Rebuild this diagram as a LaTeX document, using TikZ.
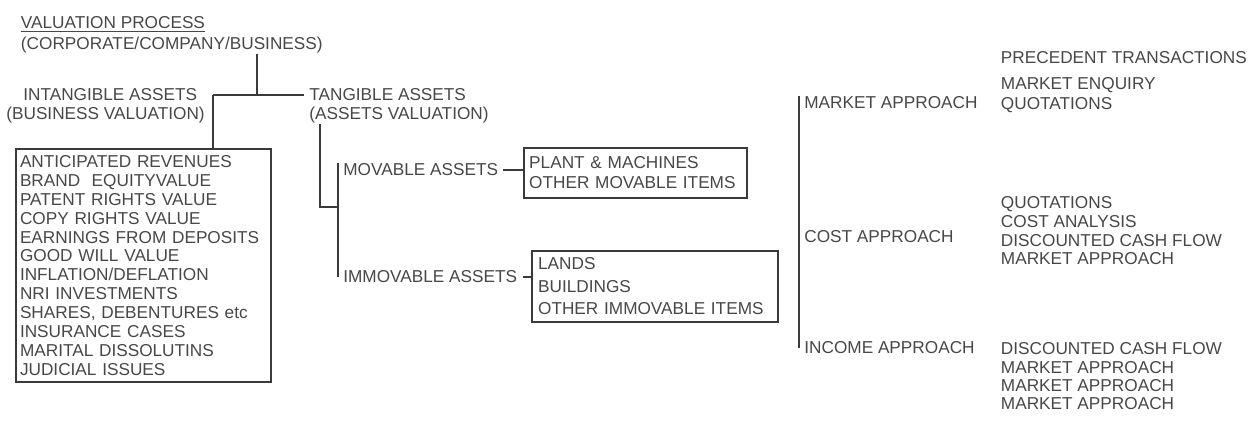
\documentclass[tikz,border=0pt]{standalone}
\usepackage{fontspec}
\setmainfont{Liberation Sans}
\usetikzlibrary{positioning}

\definecolor{ink}{HTML}{474747}
\definecolor{wire}{HTML}{3a3a3a}

\begin{document}
\begin{tikzpicture}[x=0.02cm,y=-0.02cm,line width=1.1pt,draw=wire,
	every node/.style={text=ink,inner sep=0pt},
	lbl/.style={anchor=west,inner xsep=2.5pt,font=\fontsize{9.8}{11}\selectfont},
	lst/.style={anchor=north west,align=left,font=\fontsize{9.8}{#1}\selectfont},
	itembox/.style={draw=wire,anchor=north west,align=left}]
	\useasboundingbox (0,0) rectangle (1250,420);
	% top of the tree
	\node[lst=11.9pt] (title) at (20,16) {\underline{VALUATION PROCESS}\\(CORPORATE/COMPANY/BUSINESS)};
	\node[lbl] (intang) at (18,95) {INTANGIBLE ASSETS};
	\node[lbl] (intangsub) at (1,115) {(BUSINESS VALUATION)};
	\node[lbl] (tang) at (304,95) {TANGIBLE ASSETS};
	\node[lbl] (tangsub) at (304,115) {(ASSETS VALUATION)};
	\coordinate (split) at (257,95);
	\coordinate (ibranch) at (213,95);
	\coordinate (tfoot) at (320,207);
	% intangible side
	\node[itembox,text width=140.6pt,inner xsep=2.3pt,minimum height=132.7pt,
		font=\fontsize{9.8}{10.8}\selectfont] (intbox) at (15,148)
		{ANTICIPATED REVENUES\\BRAND\ \ EQUITYVALUE\\PATENT RIGHTS VALUE\\COPY RIGHTS VALUE\\
		EARNINGS FROM DEPOSITS\\GOOD WILL VALUE\\INFLATION/DEFLATION\\NRI INVESTMENTS\\
		SHARES, DEBENTURES etc\\INSURANCE CASES\\MARITAL DISSOLUTINS\\JUDICIAL ISSUES};
	% tangible side
	\node[lbl] (mov) at (338,170) {MOVABLE ASSETS};
	\node[lbl] (imm) at (338,277) {IMMOVABLE ASSETS};
	\node[itembox,text width=121pt,inner xsep=3pt,minimum height=28.3pt,
		font=\fontsize{9.8}{11.3}\selectfont] (movbox) at (523,147)
		{PLANT \& MACHINES\\OTHER MOVABLE ITEMS};
	\node[itembox,text width=133pt,inner xsep=3.5pt,minimum height=40.3pt,
		font=\fontsize{9.8}{12.7}\selectfont] (immbox) at (531,250)
		{LANDS\\BUILDINGS\\OTHER IMMOVABLE ITEMS};
	% approaches
	\node[lbl] (mkt) at (799,103) {MARKET APPROACH};
	\node[lbl] (cost) at (799,237) {COST APPROACH};
	\node[lbl] (inc) at (799,348) {INCOME APPROACH};
	\node[lst=11.3pt] (mktlist) at (1000,51) {PRECEDENT TRANSACTIONS\\[3.4pt]MARKET ENQUIRY\\QUOTATIONS};
	\node[lst=10.6pt] (costlist) at (1000,196) {QUOTATIONS\\COST ANALYSIS\\DISCOUNTED CASH FLOW\\MARKET APPROACH};
	\node[lst=10.4pt] (inclist) at (1000,342) {DISCOUNTED CASH FLOW\\MARKET APPROACH\\MARKET APPROACH\\MARKET APPROACH};
	% connectors
	\draw (split |- title.south) -- (split);
	\draw (ibranch) -- (tang.west);
	\draw (ibranch) -- (ibranch |- intbox.north);
	\draw (tfoot |- tangsub.south) -- (tfoot) -- (tfoot -| mov.west);
	\draw (mov.north west) -- (imm.west);
	\draw (mov.east) -- (mov.east -| movbox.west);
	\draw (imm.east) -- (imm.east -| immbox.west);
	\draw (mkt.north west) -- (inc.west);
\end{tikzpicture}
\end{document}
